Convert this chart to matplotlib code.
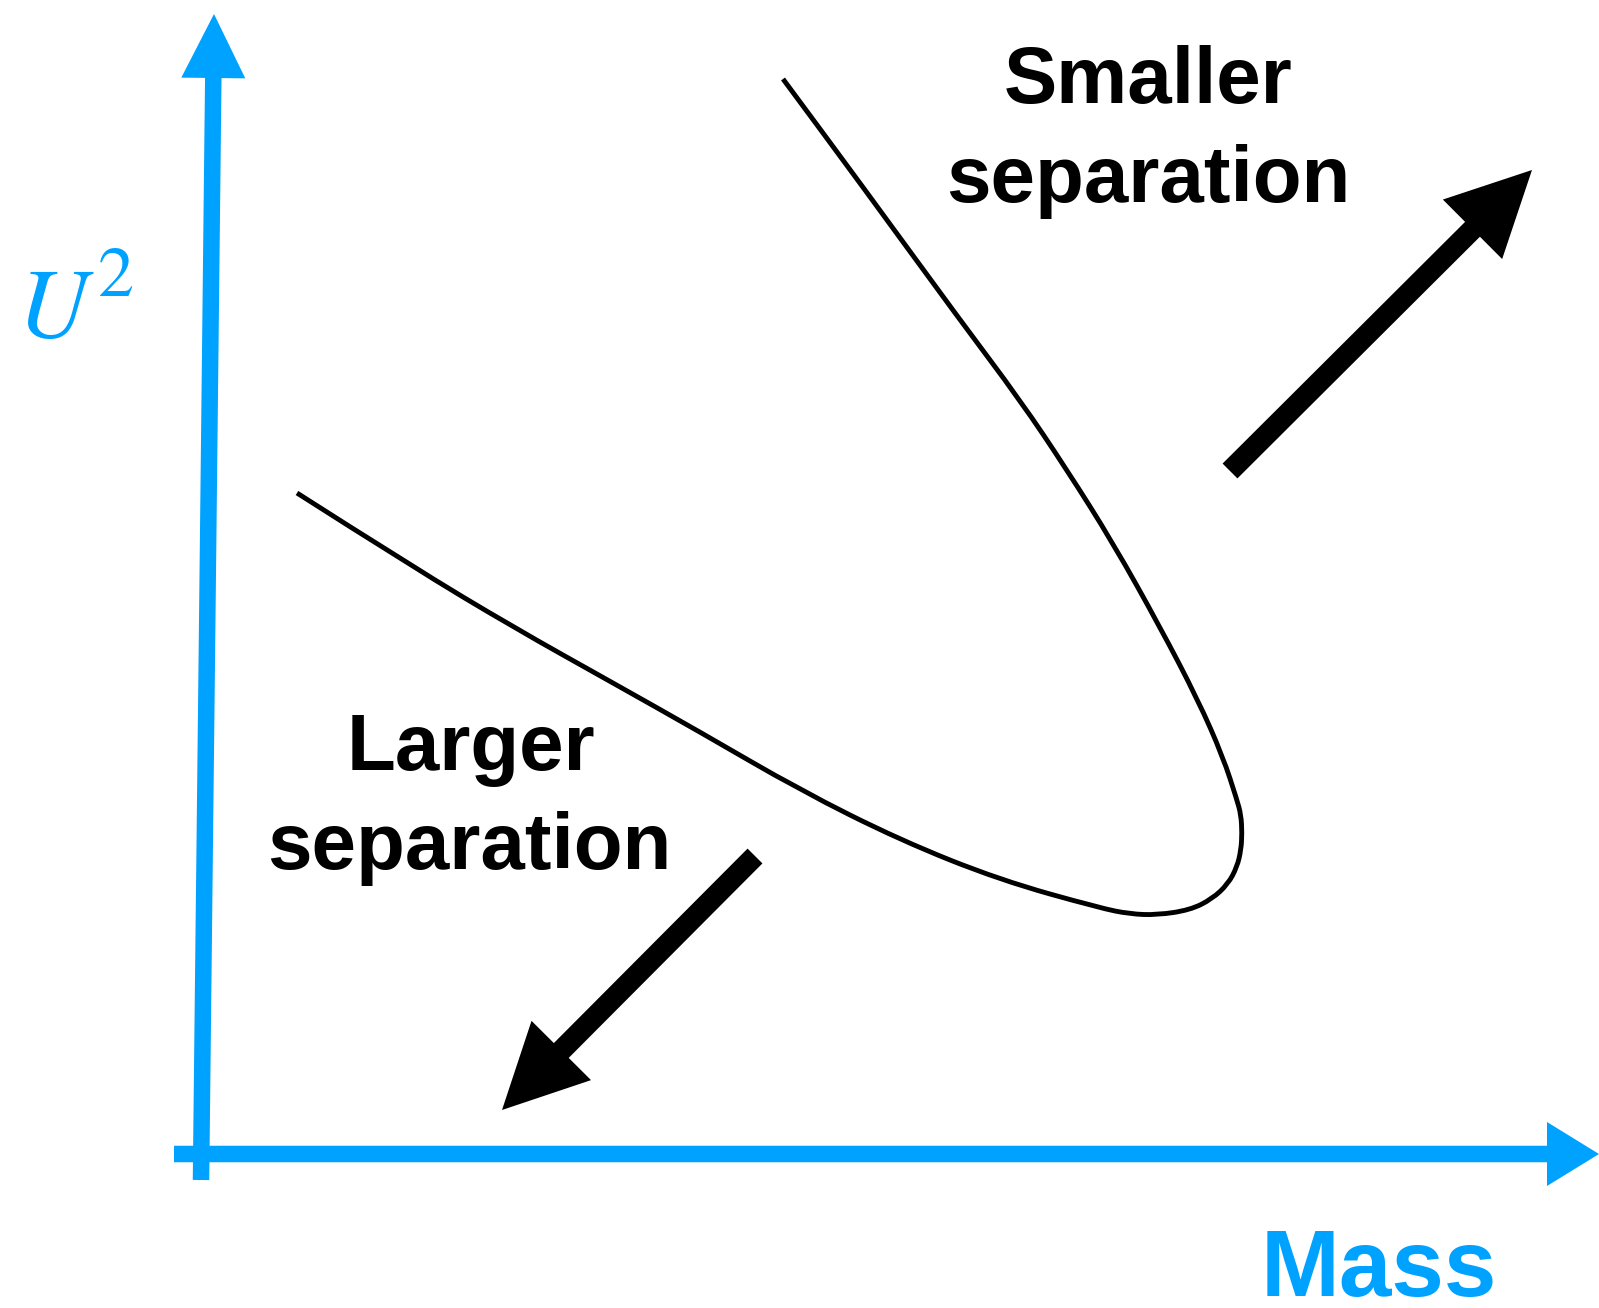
import numpy as np
import matplotlib.pyplot as plt
from matplotlib.patches import FancyArrow, PathPatch
from matplotlib.path import Path

plt.rcParams['mathtext.fontset'] = 'stix'

BLUE = '#00a2ff'

# curve (pixel coords, y down)
curve_x = [297, 413, 513, 613, 700, 800, 900, 1000, 1100, 1130, 1157, 1190,
           1212, 1228, 1237, 1241, 1242, 1241, 1237, 1223, 1198, 1160, 1113,
           1067, 1020, 960, 860, 783]
curve_y = [493, 567, 627, 683, 732, 790, 840, 880, 908, 914, 915, 910,
           899, 884, 867, 850, 833, 815, 800, 757, 700, 627, 543,
           470, 400, 320, 183, 79]

# axis arrows: tail, tip, head length
axis_tail = [(201, 1180), (174, 1154)]
axis_tip = [(214, 14), (1599, 1154)]
axis_head = [64, 52]

# direction arrows
dir_tail = [(1230, 471), (755, 856)]
dir_tip = [(1532, 170), (502, 1110)]

fig = plt.figure(figsize=(15.99, 13.08), dpi=100)
ax = fig.add_axes([0, 0, 1, 1])
ax.set_xlim(0, 1599)
ax.set_ylim(1308, 0)
ax.axis('off')

# smooth the read points with quadratic bezier pieces (points as controls)
pts = np.column_stack([curve_x, curve_y]).astype(float)
verts = [pts[0]]
codes = [Path.MOVETO]
for i in range(1, len(pts) - 1):
    verts += [pts[i], (pts[i] + pts[i + 1]) / 2]
    codes += [Path.CURVE3, Path.CURVE3]
verts.append(pts[-1])
codes.append(Path.LINETO)
ax.add_patch(PathPatch(Path(verts, codes), facecolor='none',
                       edgecolor='black', lw=3.5, capstyle='butt'))

for (x0, y0), (x1, y1), hl in zip(axis_tail, axis_tip, axis_head):
    ax.add_patch(FancyArrow(x0, y0, x1 - x0, y1 - y0, width=16.5,
                            head_width=64, head_length=hl,
                            length_includes_head=True, color=BLUE, lw=0))

for (x0, y0), (x1, y1) in zip(dir_tail, dir_tip):
    ax.add_patch(FancyArrow(x0, y0, x1 - x0, y1 - y0, width=21,
                            head_width=84, head_length=84,
                            length_includes_head=True, color='black', lw=0))

bold = dict(family='Liberation Sans', weight='bold', ha='center',
            va='baseline', fontsize=57.5)
ax.text(1148, 103, 'Smaller', **bold)
ax.text(1148, 202, 'separation', **bold)
ax.text(471, 770, 'Larger', **bold)
ax.text(469, 869, 'separation', **bold)

ax.text(1379, 1296, 'Mass', family='Liberation Sans', weight='bold',
        ha='center', va='baseline', fontsize=68, color=BLUE)
# y-axis label U^2, superscript drawn a bit larger like the reference
ax.text(17, 337, r'$U$', ha='left', va='baseline', fontsize=71, color=BLUE)
ax.text(97, 296, r'$\mathrm{2}$', ha='left', va='baseline', fontsize=52,
        color=BLUE)

fig.savefig('out.png', dpi=100)
